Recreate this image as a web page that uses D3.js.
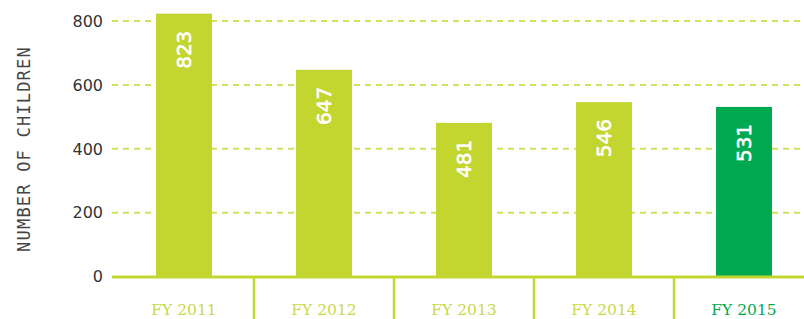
<!DOCTYPE html>
<html>
<head>
<meta charset="utf-8">
<script src="https://cdn.jsdelivr.net/npm/d3@7"></script>
<style>
  body { margin: 0; background: #fff; }
  svg { display: block; }
</style>
</head>
<body>
<svg id="chart" width="804" height="319"></svg>
<script>
// data
const years = ['FY 2011', 'FY 2012', 'FY 2013', 'FY 2014', 'FY 2015'];
const children = [823, 647, 481, 546, 531];
const yTicks = [0, 200, 400, 600, 800];

const lime = '#c3d62f';
const green = '#00a84f';

const svg = d3.select('#chart');

const x = d3.scaleBand().domain(years).range([114, 814]).paddingInner(0.6).paddingOuter(0.3);
const y = d3.scaleLinear().domain([0, 800]).range([276.5, 21]);

// grid lines
svg.append('g')
  .selectAll('line')
  .data(yTicks.filter(d => d > 0))
  .join('line')
  .attr('x1', 112)
  .attr('x2', 804)
  .attr('y1', d => y(d))
  .attr('y2', d => y(d))
  .attr('stroke', '#d3e160')
  .attr('stroke-width', 2)
  .attr('stroke-dasharray', '6,5');

// tick labels
svg.append('g')
  .selectAll('text')
  .data(yTicks)
  .join('text')
  .attr('x', 103)
  .attr('y', d => y(d))
  .attr('dy', '0.36em')
  .attr('text-anchor', 'end')
  .attr('font-family', 'DejaVu Sans')
  .attr('font-size', 16)
  .attr('fill', '#333')
  .text(d => d);

// axis title
svg.append('text')
  .attr('transform', 'translate(30,149) rotate(-90)')
  .attr('text-anchor', 'middle')
  .attr('font-family', 'DejaVu Sans Mono')
  .attr('font-size', 17)
  .attr('letter-spacing', 1.2)
  .attr('fill', '#444')
  .text('NUMBER OF CHILDREN');

// bars
svg.append('g')
  .selectAll('rect')
  .data(children)
  .join('rect')
  .attr('x', (d, i) => x(years[i]))
  .attr('y', d => y(d))
  .attr('width', x.bandwidth())
  .attr('height', d => y(0) - y(d))
  .attr('fill', (d, i) => i === years.length - 1 ? green : lime);

// value labels inside bars
svg.append('g')
  .selectAll('text')
  .data(children)
  .join('text')
  .attr('transform', (d, i) => `translate(${x(years[i]) + x.bandwidth() / 2},${y(d) + 17}) rotate(-90)`)
  .attr('text-anchor', 'end')
  .attr('dy', '0.36em')
  .attr('font-family', 'DejaVu Sans')
  .attr('font-size', 20)
  .attr('fill', '#fff')
  .attr('stroke', '#fff')
  .attr('stroke-width', 0.6)
  .text(d => d);

// baseline
svg.append('line')
  .attr('x1', 112)
  .attr('x2', 804)
  .attr('y1', y(0) + 0.5)
  .attr('y2', y(0) + 0.5)
  .attr('stroke', lime)
  .attr('stroke-width', 3);

// category separators
const step = x.step();
svg.append('g')
  .selectAll('line')
  .data(years.slice(1))
  .join('line')
  .attr('x1', d => x(d) - (step - x.bandwidth()) / 2)
  .attr('x2', d => x(d) - (step - x.bandwidth()) / 2)
  .attr('y1', y(0))
  .attr('y2', 319)
  .attr('stroke', lime)
  .attr('stroke-width', 2.5);

// category labels
svg.append('g')
  .selectAll('text')
  .data(years)
  .join('text')
  .attr('x', d => x(d) + x.bandwidth() / 2)
  .attr('y', 315)
  .attr('text-anchor', 'middle')
  .attr('font-family', 'DejaVu Serif')
  .attr('font-size', 15.5)
  .attr('fill', (d, i) => i === years.length - 1 ? green : '#c8d84a')
  .text(d => d);
</script>
</body>
</html>
